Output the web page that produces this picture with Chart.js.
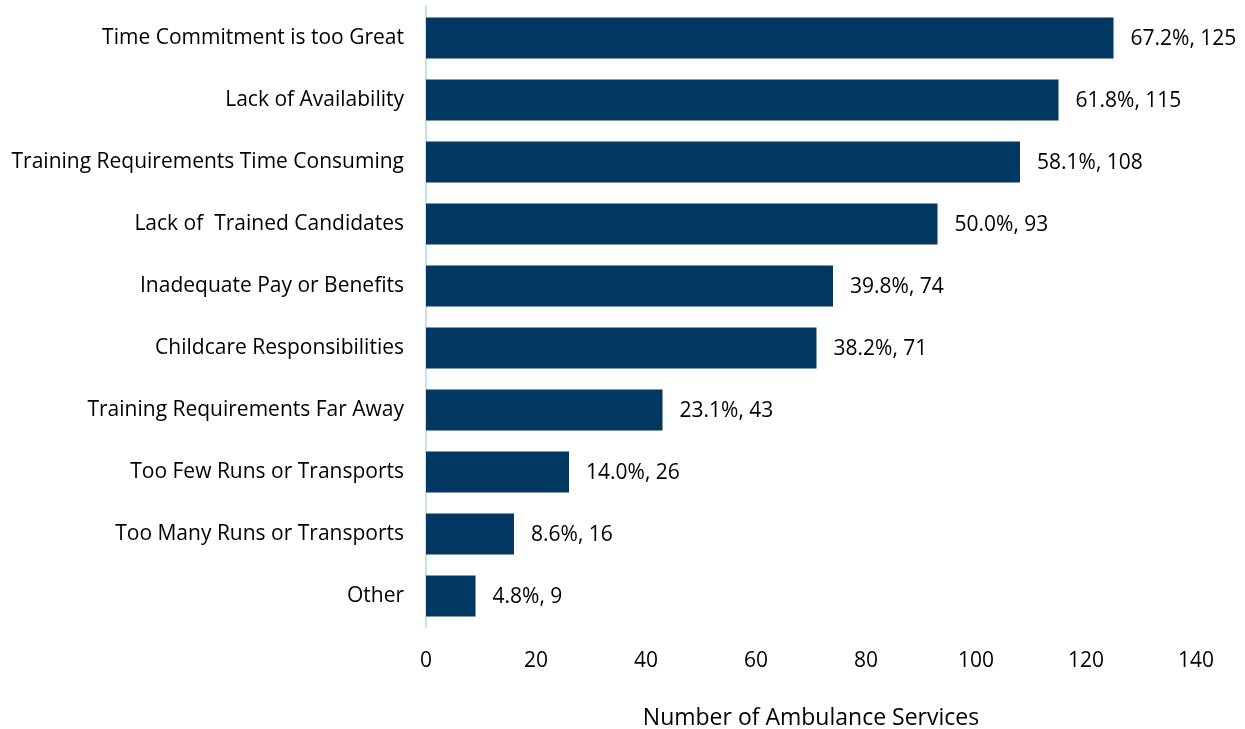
<!DOCTYPE html>
<html>
<head>
<meta charset="utf-8">
<script src="https://cdn.jsdelivr.net/npm/chart.js@4"></script>
<style>
    html, body { margin: 0; padding: 0; background: #fff; }
    #wrap { width: 1245px; height: 729px; position: relative; }
</style>
</head>
<body>
<div id="wrap"><canvas id="barriersChart"></canvas></div>
<script>
// Reasons given, number of services and share of respondents
const reasons = [
    'Time Commitment is too Great',
    'Lack of Availability',
    'Training Requirements Time Consuming',
    'Lack of  Trained Candidates',
    'Inadequate Pay or Benefits',
    'Childcare Responsibilities',
    'Training Requirements Far Away',
    'Too Few Runs or Transports',
    'Too Many Runs or Transports',
    'Other'
];
const counts = [125, 115, 108, 93, 74, 71, 43, 26, 16, 9];
const percents = ['67.2%', '61.8%', '58.1%', '50.0%', '39.8%', '38.2%', '23.1%', '14.0%', '8.6%', '4.8%'];
const xTicks = [0, 20, 40, 60, 80, 100, 120, 140];

const FONT = '"Open Sans", sans-serif';
Chart.defaults.font.family = FONT;
Chart.defaults.color = '#000';

// Writes "pct, count" just past the end of each bar
const valueLabels = {
    id: 'valueLabels',
    afterDatasetsDraw(chart) {
        const ctx = chart.ctx;
        const meta = chart.getDatasetMeta(0);
        ctx.save();
        ctx.font = '21px ' + FONT;
        ctx.fillStyle = '#000';
        ctx.textBaseline = 'middle';
        meta.data.forEach((bar, i) => {
            ctx.fillText(percents[i] + ', ' + counts[i], bar.x + 17, bar.y + 1);
        });
        ctx.restore();
    }
};

new Chart(document.getElementById('barriersChart'), {
    type: 'bar',
    data: {
        labels: reasons,
        datasets: [{
            data: counts,
            backgroundColor: '#023761',
            categoryPercentage: 0.66,
            barPercentage: 1
        }]
    },
    options: {
        indexAxis: 'y',
        responsive: true,
        maintainAspectRatio: false,
        animation: false,
        layout: { padding: { top: 7, right: 49, bottom: 0, left: 0 } },
        plugins: {
            legend: { display: false },
            tooltip: { enabled: false }
        },
        scales: {
            x: {
                min: 0,
                max: 140,
                afterBuildTicks(axis) {
                    axis.ticks = xTicks.map(v => ({ value: v }));
                },
                grid: { display: false, drawTicks: false },
                border: { display: false },
                ticks: { font: { size: 21 }, padding: 21, maxRotation: 0 },
                title: {
                    display: true,
                    text: 'Number of Ambulance Services',
                    font: { size: 23 },
                    padding: { top: 0, bottom: -3 }
                },
                afterFit(axis) { axis.height = 102; }
            },
            y: {
                grid: { display: false, drawTicks: false },
                border: { display: true, color: '#C5DFF5', width: 2 },
                ticks: { font: { size: 21 }, padding: 22 },
                afterFit(axis) {
                    axis.width = 426;
                    axis.paddingTop = 0;
                    axis.paddingBottom = 0;
                }
            }
        }
    },
    plugins: [valueLabels]
});
</script>
</body>
</html>
